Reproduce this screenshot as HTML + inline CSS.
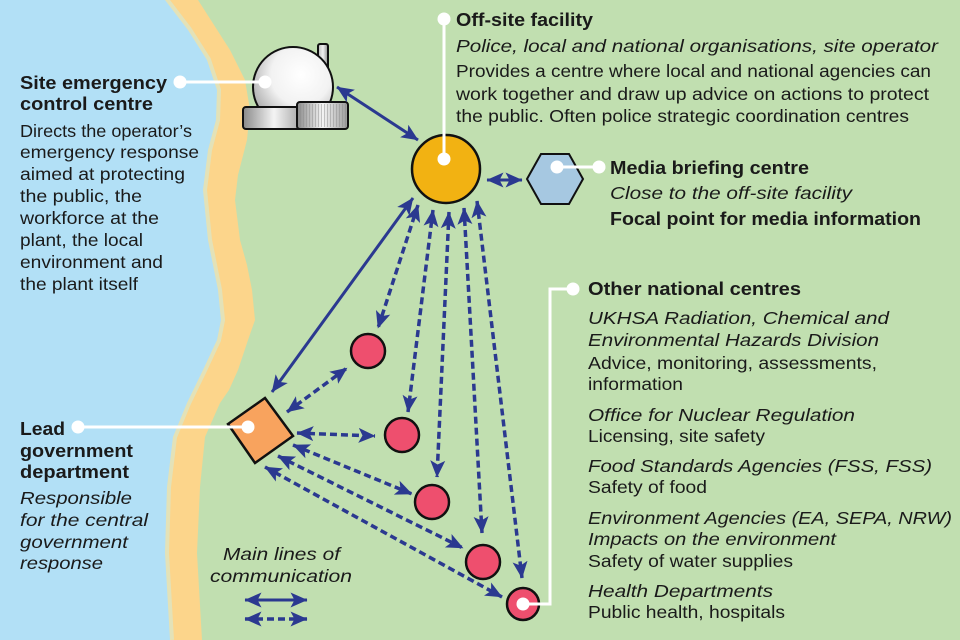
<!DOCTYPE html>
<html><head><meta charset="utf-8"><style>
html,body{margin:0;padding:0;background:#c1dfb0;}
svg{display:block;}
text{font-family:"Liberation Sans",Arial,sans-serif;fill:#1a1a1a;}
.b{font-weight:bold;font-size:18.5px;}
.r{font-size:17.5px;}
.i{font-style:italic;font-size:17.5px;}
</style></head><body>
<svg width="960" height="640" viewBox="0 0 960 640" xmlns="http://www.w3.org/2000/svg">
<defs>
<marker id="ah" viewBox="0 0 17 16" refX="16.5" refY="8" markerWidth="17" markerHeight="16" markerUnits="userSpaceOnUse" orient="auto-start-reverse">
<path d="M0,0.5 L17,8 L0,15.5 L4,8 Z" fill="#2b3990"/>
</marker>
<radialGradient id="sph" cx="0.6" cy="0.35" r="0.75">
<stop offset="0" stop-color="#ffffff"/><stop offset="0.5" stop-color="#f2f2f2"/><stop offset="1" stop-color="#9a9a9a"/>
</radialGradient>
<linearGradient id="base" x1="0" y1="0" x2="1" y2="0">
<stop offset="0" stop-color="#8a8a8a"/><stop offset="0.5" stop-color="#f4f4f4"/><stop offset="1" stop-color="#9a9a9a"/>
</linearGradient>
<linearGradient id="chim" x1="0" y1="0" x2="1" y2="0">
<stop offset="0" stop-color="#bdbdbd"/><stop offset="0.5" stop-color="#f0f0f0"/><stop offset="1" stop-color="#8c8c8c"/>
</linearGradient>
<pattern id="stripes" width="3" height="10" patternUnits="userSpaceOnUse">
<rect width="3" height="10" fill="none"/><rect x="0" width="1" height="10" fill="#8a8a8a" opacity="0.45"/>
</pattern>
</defs>

<rect width="960" height="640" fill="#c1dfb0"/>
<!-- sand -->
<path d="M0,0 L198,0 L214,25 L230,50 L245,80 L250,110 L247,140 L238,175 L235,200 L240,240 L247,265 L252,290 L255,320 L248,340 L238,370 L229,390 L220,403 L205,437 L200,487 L197,553 L202,640 L0,640 Z" fill="#fcd58b"/>
<!-- pale edge -->
<path d="M165,0 L188,30 L207,60 L217,90 L216,120 L208,150 L203,190 L208,240 L218,290 L221,320 L217,340 L203,370 L187,403 L173,437 L167,487 L165,553 L170,640" fill="none" stroke="#e3e2b8" stroke-width="8"/>
<!-- sea -->
<path d="M0,0 L165,0 L188,30 L207,60 L217,90 L216,120 L208,150 L203,190 L208,240 L218,290 L221,320 L217,340 L203,370 L187,403 L173,437 L167,487 L165,553 L170,640 L0,640 Z" fill="#b2e0f6"/>

<!-- reactor -->
<rect x="318" y="44" width="10" height="60" rx="2" fill="url(#chim)" stroke="#111" stroke-width="2"/>
<circle cx="293" cy="87" r="40" fill="url(#sph)" stroke="#111" stroke-width="2"/>
<rect x="243" y="107" width="62" height="22" rx="3" fill="url(#base)" stroke="#111" stroke-width="2"/>
<rect x="297" y="102" width="51" height="27" rx="3" fill="url(#base)" stroke="#111" stroke-width="2"/>
<rect x="299" y="104" width="47" height="23" fill="url(#stripes)"/>

<!-- connectors -->
<g stroke="#2b3990" stroke-width="3" fill="none" marker-start="url(#ah)" marker-end="url(#ah)">
<line x1="337" y1="87" x2="418" y2="140"/>
<line x1="487" y1="180" x2="522" y2="180"/>
<line x1="413" y1="198" x2="272" y2="392"/>
<line x1="245" y1="600" x2="307" y2="600"/>
</g>
<g stroke="#2b3990" stroke-width="3.5" fill="none" stroke-dasharray="7 4" marker-start="url(#ah)" marker-end="url(#ah)">
<line x1="418" y1="205" x2="378" y2="328"/>
<line x1="433" y1="210" x2="408" y2="412"/>
<line x1="449" y1="212" x2="437" y2="477"/>
<line x1="464" y1="208" x2="482" y2="533"/>
<line x1="477" y1="201" x2="522" y2="578"/>
<line x1="287" y1="412" x2="347" y2="368"/>
<line x1="297" y1="433" x2="375" y2="436"/>
<line x1="293" y1="445" x2="412" y2="494"/>
<line x1="278" y1="456" x2="463" y2="548"/>
<line x1="265" y1="467" x2="502" y2="597"/>
<line x1="245" y1="619" x2="307" y2="619"/>
</g>

<!-- nodes -->
<circle cx="446" cy="169" r="34" fill="#f2b212" stroke="#111" stroke-width="2.5"/>
<polygon points="527,179 541,154 569,154 583,179 569,204 541,204" fill="#a6c8e1" stroke="#111" stroke-width="2"/>
<polygon points="265,398 293,436 255,463 228,424" fill="#f8a35e" stroke="#111" stroke-width="2.5"/>
<g fill="#ee4f6e" stroke="#111" stroke-width="2.5">
<circle cx="368" cy="351" r="17"/>
<circle cx="402" cy="435" r="17"/>
<circle cx="432" cy="502" r="17"/>
<circle cx="483" cy="562" r="17"/>
<circle cx="523" cy="604" r="16"/>
</g>

<!-- white leader lines -->
<g stroke="#fff" stroke-width="3" fill="none">
<line x1="180" y1="82" x2="265" y2="82"/>
<line x1="444" y1="19" x2="444" y2="159"/>
<line x1="557" y1="167" x2="599" y2="167"/>
<line x1="78" y1="427" x2="248" y2="427"/>
<polyline points="573,289 550,289 550,604 523,604"/>
</g>
<g fill="#fff">
<circle cx="180" cy="82" r="6.5"/><circle cx="265" cy="82" r="6.5"/>
<circle cx="444" cy="19" r="6.5"/><circle cx="444" cy="159" r="6.5"/>
<circle cx="557" cy="167" r="6.5"/><circle cx="599" cy="167" r="6.5"/>
<circle cx="78" cy="427" r="6.5"/><circle cx="248" cy="427" r="6.5"/>
<circle cx="573" cy="289" r="6.5"/><circle cx="523" cy="604" r="6.5"/>
</g>

<!-- left texts -->
<g>
<text class="b" x="20" y="89" textLength="147" lengthAdjust="spacingAndGlyphs">Site emergency</text>
<text class="b" x="20" y="110" textLength="133" lengthAdjust="spacingAndGlyphs">control centre</text>
<text class="r" x="20" y="137" textLength="172" lengthAdjust="spacingAndGlyphs">Directs the operator’s</text>
<text class="r" x="20" y="158" textLength="179" lengthAdjust="spacingAndGlyphs">emergency response</text>
<text class="r" x="20" y="180" textLength="165" lengthAdjust="spacingAndGlyphs">aimed at protecting</text>
<text class="r" x="20" y="202" textLength="122" lengthAdjust="spacingAndGlyphs">the public, the</text>
<text class="r" x="20" y="224" textLength="139" lengthAdjust="spacingAndGlyphs">workforce at the</text>
<text class="r" x="20" y="246" textLength="123" lengthAdjust="spacingAndGlyphs">plant, the local</text>
<text class="r" x="20" y="268" textLength="143" lengthAdjust="spacingAndGlyphs">environment and</text>
<text class="r" x="20" y="290" textLength="118" lengthAdjust="spacingAndGlyphs">the plant itself</text>

<text class="b" x="20" y="435" textLength="45" lengthAdjust="spacingAndGlyphs">Lead</text>
<text class="b" x="20" y="457" textLength="113" lengthAdjust="spacingAndGlyphs">government</text>
<text class="b" x="20" y="478" textLength="109" lengthAdjust="spacingAndGlyphs">department</text>
<text class="i" x="20" y="504" textLength="112" lengthAdjust="spacingAndGlyphs">Responsible</text>
<text class="i" x="20" y="526" textLength="128" lengthAdjust="spacingAndGlyphs">for the central</text>
<text class="i" x="20" y="548" textLength="108" lengthAdjust="spacingAndGlyphs">government</text>
<text class="i" x="20" y="569" textLength="83" lengthAdjust="spacingAndGlyphs">response</text>

<text class="i" x="223" y="560" textLength="117" lengthAdjust="spacingAndGlyphs">Main lines of</text>
<text class="i" x="210" y="582" textLength="142" lengthAdjust="spacingAndGlyphs">communication</text>

<!-- top right -->
<text class="b" x="456" y="26" textLength="137" lengthAdjust="spacingAndGlyphs">Off-site facility</text>
<text class="i" x="456" y="52" textLength="482" lengthAdjust="spacingAndGlyphs">Police, local and national organisations, site operator</text>
<text class="r" x="456" y="77" textLength="475" lengthAdjust="spacingAndGlyphs">Provides a centre where local and national agencies can</text>
<text class="r" x="456" y="100" textLength="473" lengthAdjust="spacingAndGlyphs">work together and draw up advice on actions to protect</text>
<text class="r" x="456" y="122" textLength="453" lengthAdjust="spacingAndGlyphs">the public. Often police strategic coordination centres</text>

<text class="b" x="610" y="174" textLength="199" lengthAdjust="spacingAndGlyphs">Media briefing centre</text>
<text class="i" x="610" y="199" textLength="242" lengthAdjust="spacingAndGlyphs">Close to the off-site facility</text>
<text class="b" x="610" y="225" textLength="311" lengthAdjust="spacingAndGlyphs">Focal point for media information</text>

<text class="b" x="588" y="295" textLength="213" lengthAdjust="spacingAndGlyphs">Other national centres</text>
<text class="i" x="588" y="324" textLength="301" lengthAdjust="spacingAndGlyphs">UKHSA Radiation, Chemical and</text>
<text class="i" x="588" y="346" textLength="291" lengthAdjust="spacingAndGlyphs">Environmental Hazards Division</text>
<text class="r" x="588" y="369" textLength="289" lengthAdjust="spacingAndGlyphs">Advice, monitoring, assessments,</text>
<text class="r" x="588" y="390" textLength="95" lengthAdjust="spacingAndGlyphs">information</text>
<text class="i" x="588" y="421" textLength="267" lengthAdjust="spacingAndGlyphs">Office for Nuclear Regulation</text>
<text class="r" x="588" y="442" textLength="177" lengthAdjust="spacingAndGlyphs">Licensing, site safety</text>
<text class="i" x="588" y="472" textLength="344" lengthAdjust="spacingAndGlyphs">Food Standards Agencies (FSS, FSS)</text>
<text class="r" x="588" y="493" textLength="119" lengthAdjust="spacingAndGlyphs">Safety of food</text>
<text class="i" x="588" y="524" textLength="364" lengthAdjust="spacingAndGlyphs">Environment Agencies (EA, SEPA, NRW)</text>
<text class="i" x="588" y="545" textLength="248" lengthAdjust="spacingAndGlyphs">Impacts on the environment</text>
<text class="r" x="588" y="567" textLength="205" lengthAdjust="spacingAndGlyphs">Safety of water supplies</text>
<text class="i" x="588" y="597" textLength="185" lengthAdjust="spacingAndGlyphs">Health Departments</text>
<text class="r" x="588" y="618" textLength="197" lengthAdjust="spacingAndGlyphs">Public health, hospitals</text>
</g>
</svg>
</body></html>
